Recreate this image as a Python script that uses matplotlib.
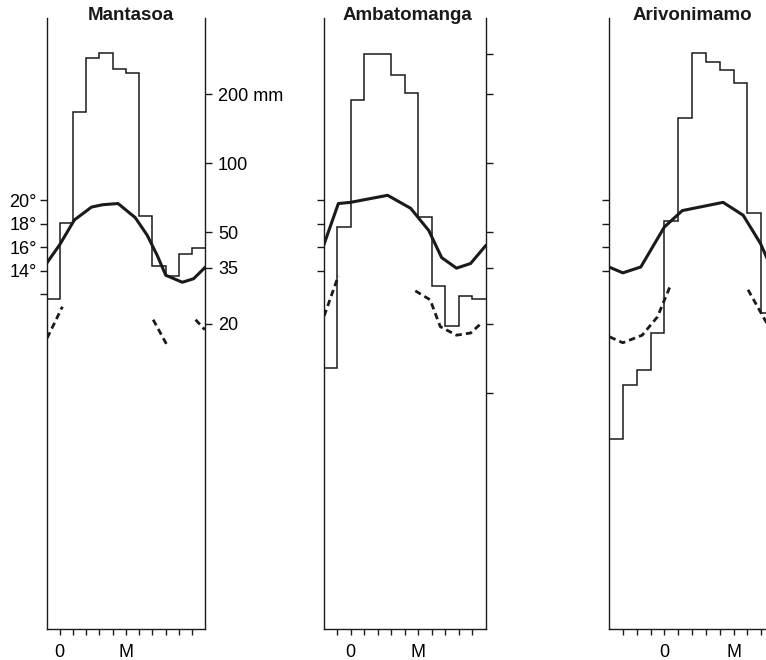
import numpy as np
import matplotlib.pyplot as plt
from matplotlib.ticker import NullLocator

plt.rcParams['font.family'] = ['Liberation Sans', 'DejaVu Sans']

stations = ["Mantasoa", "Ambatomanga", "Arivonimamo"]

# monthly rainfall (mm), first month at the left edge of each panel
rain_mantasoa = [25.7, 55, 168, 289, 303, 258, 248, 59, 35.8, 32.3, 40.3, 42.8]
rain_ambatomanga = [12.8, 52.8, 189, 300, 300, 243, 203, 58.4, 29.2, 19.5, 26.4, 25.7]
rain_arivonimamo = [6.3, 10.8, 12.6, 18.2, 56, 158, 303, 277, 256, 224, 60.8, 22.3]

# mean temperature curve (month position, degrees C)
temp_x_mantasoa = [0, 1.0, 2.1, 3.4, 4.25, 5.4, 6.7, 7.6, 8.35, 9.0, 10.25, 11.1, 12]
temp_mantasoa = [14.6, 16.2, 18.3, 19.4, 19.6, 19.7, 18.5, 17.0, 15.3, 13.6, 13.0, 13.3, 14.3]
temp_x_ambatomanga = [0, 1.1, 2.0, 4.75, 6.45, 7.8, 8.75, 9.85, 10.9, 12]
temp_ambatomanga = [16.1, 19.7, 19.8, 20.4, 19.3, 17.4, 15.1, 14.2, 14.6, 16.1]
temp_x_arivonimamo = [0, 1.0, 2.3, 4.0, 5.3, 8.25, 9.7, 10.95, 11.4, 12]
temp_arivonimamo = [14.3, 13.8, 14.3, 17.7, 19.1, 19.8, 18.7, 16.3, 15.1, 13.8]

# dashed curve pieces (month position, mm)
dash_mantasoa = [([0.05, 1.2], [17.3, 23.7]),
                 ([8.05, 9.1], [20.8, 16.1]),
                 ([11.25, 11.95], [20.8, 18.8])]
dash_ambatomanga = [([0.05, 1.1], [21.6, 32.3]),
                    ([6.8, 7.9, 8.65, 9.85, 10.9, 11.7], [27.8, 25.4, 19.4, 17.8, 18.2, 20.1])]
dash_arivonimamo = [([0.05, 1.0, 2.4, 3.5, 4.4], [17.5, 16.5, 17.8, 21.4, 28.9]),
                    ([10.05, 11.4, 12], [28.1, 20.1, 17.5])]

rain = [rain_mantasoa, rain_ambatomanga, rain_arivonimamo]
temp_x = [temp_x_mantasoa, temp_x_ambatomanga, temp_x_arivonimamo]
temp = [temp_mantasoa, temp_ambatomanga, temp_arivonimamo]
dashes = [dash_mantasoa, dash_ambatomanga, dash_arivonimamo]

# month ticks carrying "0" and "M"
month_labels = [(1, 6), (2, 7), (4, 9)]

rain_ticks_first = [200, 100, 50, 35, 20]
rain_labels_first = ["200 mm", "100", "50", "35", "20"]
rain_ticks_other = [300, 200, 100, 50, 35, 20, 10]
temp_ticks_first = [20, 18, 16, 14, 12]
temp_labels_first = ["20°", "18°", "16°", "14°", ""]
temp_ticks_other = [20, 18, 16, 14]

# layout in pixels
W, H = 766, 660
panel_px = [(46.5, 205.5), (323.5, 485.5), (609, 775)]
title_px = [131, 407, 692]
top_px, bot_px = 18, 629

ink = "#1a1a1a"
fig = plt.figure(figsize=(W / 100, H / 100), dpi=100)
fig.patch.set_facecolor("white")

for i, name in enumerate(stations):
    x0, x1 = panel_px[i]
    ax = fig.add_axes([x0 / W, 1 - bot_px / H, (x1 - x0) / W, (bot_px - top_px) / H])
    ax.set_xlim(0, 12)
    ax.set_ylim(-16.51, 35.49)
    ax2 = ax.twinx()
    ax2.set_yscale("log")
    ax2.set_ylim(0.93, 431)

    for s in ["top", "right"]:
        ax.spines[s].set_visible(False)
    for s in ["top", "left", "bottom"]:
        ax2.spines[s].set_visible(False)
    for s in ["left", "bottom"]:
        ax.spines[s].set_linewidth(1.0)
        ax.spines[s].set_color(ink)
    ax2.spines["right"].set_linewidth(1.0)
    ax2.spines["right"].set_color(ink)

    # rainfall steps
    ax2.stairs(rain[i], np.arange(13), baseline=None, color=ink, lw=1.1)
    # dashed curve
    for xs, ys in dashes[i]:
        ax2.plot(xs, ys, color=ink, lw=2.0, linestyle=(0, (2.3, 1.5)),
                 solid_capstyle="butt")
    # temperature
    ax2.plot([], [])
    ax.plot(temp_x[i], temp[i], color=ink, lw=2.2, zorder=5)
    ax.set_zorder(ax2.get_zorder() + 1)
    ax.patch.set_visible(False)

    # month ticks
    a, b = month_labels[i]
    ax.set_xticks(range(1, 12))
    ax.set_xticklabels(["0" if k == a else "M" if k == b else "" for k in range(1, 12)])
    ax.tick_params(axis="x", direction="out", length=4.5, width=1.0, pad=6,
                   labelsize=13, color=ink)

    # temperature ticks
    if i == 0:
        ax.set_yticks(temp_ticks_first)
        ax.set_yticklabels(temp_labels_first)
        ax2.set_yticks(rain_ticks_first)
        ax2.set_yticklabels(rain_labels_first)
    else:
        ax.set_yticks(temp_ticks_other)
        ax.set_yticklabels([])
        ax2.set_yticks(rain_ticks_other)
        ax2.set_yticklabels([])
    ax2.yaxis.set_minor_locator(NullLocator())
    ax.tick_params(axis="y", direction="out", length=5, width=1.0, pad=2,
                   labelsize=13, color=ink)
    ax2.tick_params(axis="y", direction="out", length=5, width=1.0, pad=4,
                    labelsize=13, color=ink)

    fig.text(title_px[i] / W, 1 - 15 / H, name, ha="center", va="center",
             fontsize=13.5, fontweight="bold", color=ink)

fig.savefig("out.png", dpi=100, facecolor="white")
